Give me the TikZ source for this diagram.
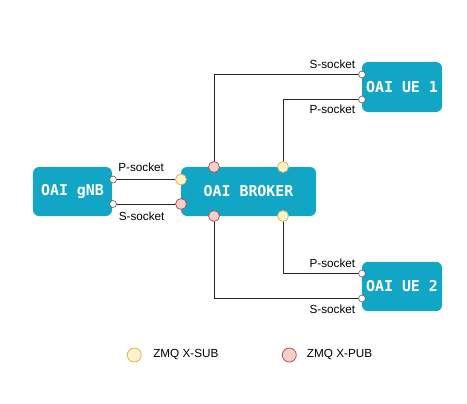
\documentclass[tikz,border=0pt]{standalone}
\usepackage{fontspec}
\setmainfont{Liberation Sans}
\newfontfamily\boxfont{DejaVu Sans Mono}
\definecolor{boxblue}{HTML}{12A6C6}
\definecolor{subfill}{HTML}{FFF2CC}
\definecolor{subdraw}{HTML}{D6B656}
\definecolor{pubfill}{HTML}{F8CECC}
\definecolor{pubdraw}{HTML}{B85450}
\definecolor{portdraw}{HTML}{666666}
\tikzset{
  box/.style={draw=none, fill=boxblue, rounded corners=4.5pt, text=white,
    font=\boxfont\bfseries\fontsize{11.2pt}{13pt}\selectfont, inner sep=0pt},
  subport/.style={circle, draw=subdraw, fill=subfill, line width=0.6pt, minimum size=8.2pt, inner sep=0pt},
  pubport/.style={circle, draw=pubdraw, fill=pubfill, line width=0.6pt, minimum size=8.2pt, inner sep=0pt},
  sport/.style={circle, draw=portdraw, fill=white, line width=0.5pt, minimum size=5.2pt, inner sep=0pt},
  legsub/.style={subport, minimum size=10.5pt},
  legpub/.style={pubport, minimum size=10.5pt},
  conn/.style={draw=black!85, line width=0.75pt},
  lbl/.style={font=\fontsize{8.8pt}{10pt}\selectfont, inner sep=0pt},
}
\begin{document}
\begin{tikzpicture}[x=0.75pt,y=-0.75pt]
\useasboundingbox (0,0) rectangle (467,403);
% boxes
\node[box, minimum width=59.25pt, minimum height=36.75pt] (gnb) at (72.5,191.5) {OAI gNB};
\node[box, minimum width=101.25pt, minimum height=36.75pt] (broker) at (248.5,191.5) {OAI BROKER};
\node[box, minimum width=60pt, minimum height=37.5pt] (ue1) at (402,87) {OAI UE 1};
\node[box, minimum width=60pt, minimum height=37pt] (ue2) at (402,286.5) {OAI UE 2};
% port coordinates
\coordinate (gP) at (113,179.5);
\coordinate (gS) at (113,204);
\coordinate (bLsub) at (181,179.5);
\coordinate (bLpub) at (181,204);
\coordinate (bTpub) at (214,167);
\coordinate (bTsub) at (283,167);
\coordinate (bBpub) at (214,216);
\coordinate (bBsub) at (283,216);
\coordinate (u1S) at (362,74.5);
\coordinate (u1P) at (362,99.5);
\coordinate (u2P) at (362,273.5);
\coordinate (u2S) at (362,298.5);
% connectors
\draw[conn] (gP) -- (bLsub);
\draw[conn] (gS) -- (bLpub);
\draw[conn] (u1S) -| (bTpub);
\draw[conn] (u1P) -| (bTsub);
\draw[conn] (u2P) -| (bBsub);
\draw[conn] (u2S) -| (bBpub);
% ports
\node[sport] (pgP) at (gP) {};
\node[sport] (pgS) at (gS) {};
\node[subport] (pbLsub) at (bLsub) {};
\node[pubport] (pbLpub) at (bLpub) {};
\node[pubport] (pbTpub) at (bTpub) {};
\node[subport] (pbTsub) at (bTsub) {};
\node[pubport] (pbBpub) at (bBpub) {};
\node[subport] (pbBsub) at (bBsub) {};
\node[sport] (pu1S) at (u1S) {};
\node[sport] (pu1P) at (u1P) {};
\node[sport] (pu2P) at (u2P) {};
\node[sport] (pu2S) at (u2S) {};
% labels
\node[lbl, anchor=west] (lgP) at (118,167.5) {P-socket};
\node[lbl, anchor=west] (lgS) at (118.5,216.5) {S-socket};
\node[lbl, anchor=east] (lu1S) at (355.5,64.5) {S-socket};
\node[lbl, anchor=east] (lu1P) at (355.5,109.5) {P-socket};
\node[lbl, anchor=east] (lu2P) at (355.5,263.5) {P-socket};
\node[lbl, anchor=east] (lu2S) at (355.5,309.5) {S-socket};
% legend
\node[legsub] (legA) at (134.3,355) {};
\node[lbl, anchor=west] (legAt) at (153,355) {ZMQ X-SUB};
\node[legpub] (legB) at (289.3,355) {};
\node[lbl, anchor=west] (legBt) at (306.7,355) {ZMQ X-PUB};
\end{tikzpicture}
\end{document}
